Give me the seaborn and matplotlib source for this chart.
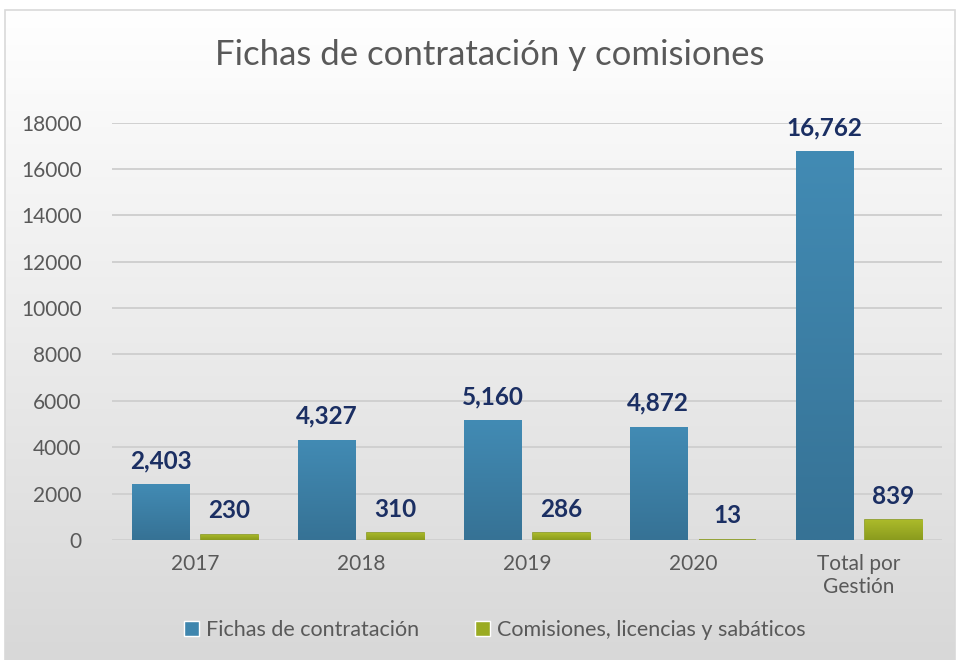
import matplotlib
matplotlib.use("Agg")
import matplotlib.pyplot as plt
import seaborn as sns
import numpy as np
import pandas as pd
from matplotlib.colors import LinearSegmentedColormap
from matplotlib.patches import Patch, Rectangle

# 数据
categorias = ["2017", "2018", "2019", "2020", "Total por\nGestión"]
fichas = [2403, 4327, 5160, 4872, 16762]
comisiones = [230, 310, 286, 13, 839]
series = ["Fichas de contratación", "Comisiones, licencias y sabáticos"]

df = pd.DataFrame({
    "cat": categorias * 2,
    "valor": fichas + comisiones,
    "serie": [series[0]] * 5 + [series[1]] * 5,
})

sns.set_style("white")
plt.rcParams["font.family"] = ["Lato", "DejaVu Sans"]

fig = plt.figure(figsize=(9.57, 6.6), dpi=100)
fig.patch.set_facecolor("white")

# fondo degradado
bg = fig.add_axes([0, 0, 1, 1], zorder=-10)
grad = np.linspace(0, 1, 256).reshape(-1, 1)
bg_cmap = LinearSegmentedColormap.from_list("bg", ["#ffffff", "#d8d8d8"])
bg.imshow(grad, extent=[5, 955, 0, 650], cmap=bg_cmap, aspect="auto", origin="upper")
bg.add_patch(Rectangle((5, 0), 950, 650, fill=False, edgecolor="#d9d9d9", lw=1.2))
bg.set_xlim(0, 957)
bg.set_ylim(0, 660)
bg.axis("off")

ax = fig.add_axes([0.117, 0.182, 0.867, 0.632])
ax.set_facecolor("none")

sns.barplot(data=df, x="cat", y="valor", hue="serie", hue_order=series,
            palette=["#3f86ae", "#9aab22"], width=0.83, gap=0.17,
            legend=False, ax=ax, saturation=1)

colores = [("#428bb4", "#367295"), ("#abba2a", "#8a9b1e")]
bars = list(ax.patches)
for i, bar in enumerate(bars):
    x, y = bar.get_x(), bar.get_y()
    w, h = bar.get_width(), bar.get_height()
    top, bot = colores[0] if i < 5 else colores[1]
    cm = LinearSegmentedColormap.from_list("b", [top, bot])
    im = ax.imshow(grad, extent=[x, x + w, y, y + h], cmap=cm, aspect="auto",
                   origin="upper", zorder=3)
    im.set_clip_path(bar)
    if i < 5:
        bar.set_edgecolor("none")
    else:
        bar.set_edgecolor(bot)
        bar.set_linewidth(1.2)
    ax.annotate(f"{int(round(h)):,}", (x + w / 2, h), xytext=(0, 17),
                textcoords="offset points", ha="center", va="center",
                fontsize=17.5, fontweight="bold", color="#1b2f63",
                annotation_clip=False, zorder=5)

ax.set_xlim(-0.5, 4.5)
ax.set_ylim(0, 18000)
ax.set_yticks(np.arange(0, 18001, 2000))
ax.yaxis.grid(True, color="#d0d0d0", lw=1.4)
ax.set_axisbelow(True)
for s in ax.spines.values():
    s.set_visible(False)
ax.tick_params(axis="both", length=0, labelsize=15, labelcolor="#595959", pad=10)
ax.tick_params(axis="y", pad=22)
ax.set_xlabel("")
ax.set_ylabel("")

fig.text(0.512, 0.917, "Fichas de contratación y comisiones", ha="center", va="center",
         fontsize=25, color="#595959")

handles = [Patch(facecolor="#3f86ae"), Patch(facecolor="#9aab22")]
fig.legend(handles, series, loc="center", bbox_to_anchor=(0.517, 0.045), ncol=2,
           frameon=False, fontsize=15.5, labelcolor="#595959", handlelength=0.7,
           handleheight=0.7, handletextpad=0.3, columnspacing=2.6)

fig.savefig("out.png", dpi=100)
